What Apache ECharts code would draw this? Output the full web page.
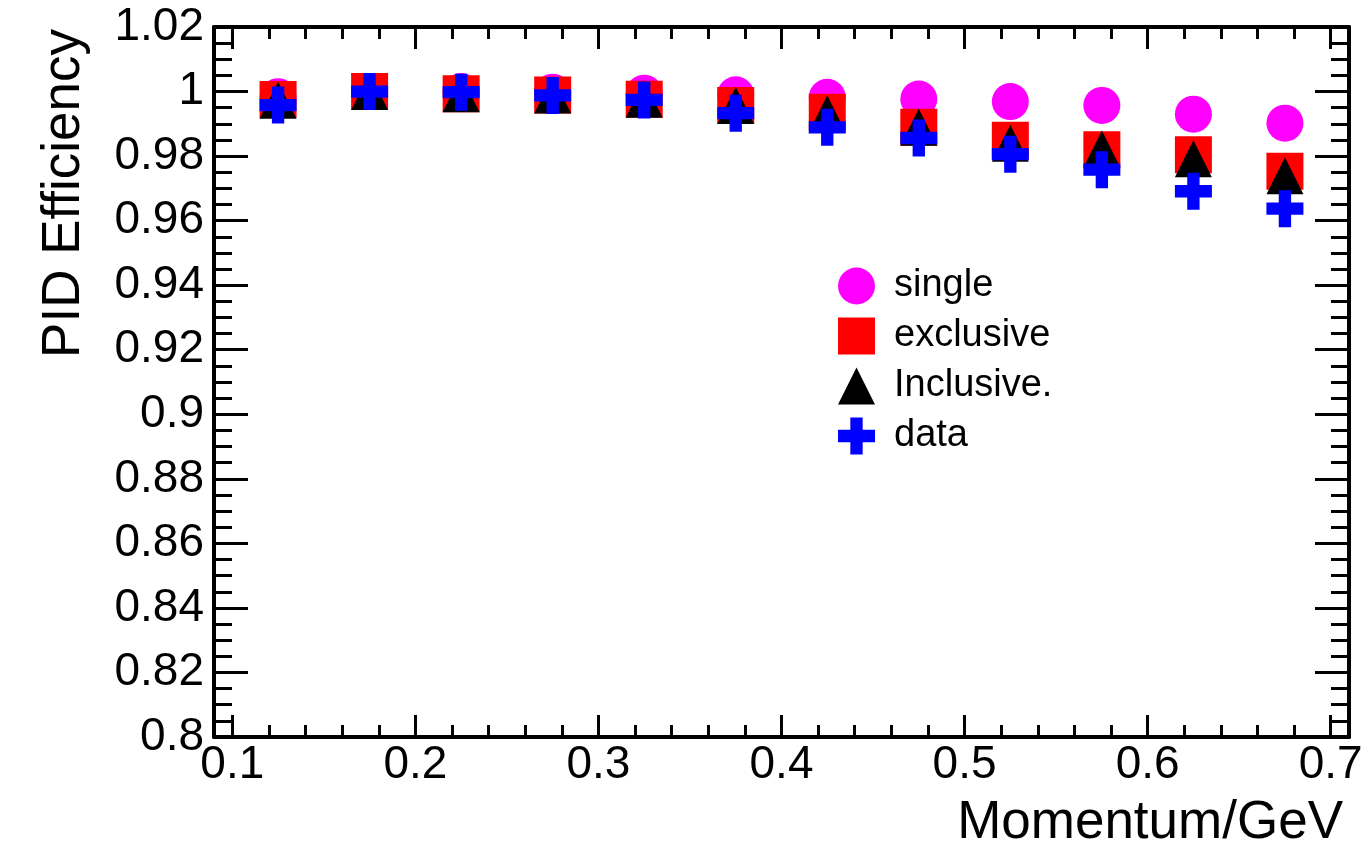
<!DOCTYPE html>
<html>
<head>
<meta charset="utf-8">
<script src="https://cdn.jsdelivr.net/npm/echarts@6/dist/echarts.min.js"></script>
<style>
  html, body { margin: 0; padding: 0; background: #fff; }
  #chart { width: 1368px; height: 853px; }
</style>
</head>
<body>
<div id="chart"></div>
<script>
// momentum bin centres (GeV)
const momentum = [0.125, 0.175, 0.225, 0.275, 0.325, 0.375, 0.425, 0.475, 0.525, 0.575, 0.625, 0.675];
const single    = [0.9984, 1.0000, 1.0000, 0.9998, 0.9995, 0.9990, 0.9982, 0.9977, 0.9969, 0.9957, 0.9930, 0.9902];
const exclusive = [0.9975, 1.0000, 0.9993, 0.9989, 0.9976, 0.9957, 0.9936, 0.9889, 0.9849, 0.9820, 0.9804, 0.9753];
const inclusive = [0.9973, 1.0000, 0.9993, 0.9989, 0.9976, 0.9957, 0.9931, 0.9889, 0.9840, 0.9822, 0.9792, 0.9739];
const dataEff   = [0.9958, 1.0000, 0.9998, 0.9988, 0.9974, 0.9933, 0.9889, 0.9856, 0.9806, 0.9758, 0.9691, 0.9637];

const xMajor = [0.1, 0.2, 0.3, 0.4, 0.5, 0.6, 0.7];
const xMinor = [0.12, 0.14, 0.16, 0.18, 0.22, 0.24, 0.26, 0.28, 0.32, 0.34, 0.36, 0.38,
                0.42, 0.44, 0.46, 0.48, 0.52, 0.54, 0.56, 0.58, 0.62, 0.64, 0.66, 0.68];

const FONT = "'Liberation Sans', Arial, Helvetica, sans-serif";
const crossPath = 'path://M1,0H2V1H3V2H2V3H1V2H0V1H1Z';

let chart = echarts.init(document.getElementById('chart'), null, { renderer: 'canvas' });

function pts(vals) {
    return momentum.map((m, i) => [m, vals[i]]);
}

function xAxisDef(pos, ticks, len, main) {
    return {
        type: 'value',
        position: pos,
        min: 0.09,
        max: 0.71,
        splitLine: { show: false },
        axisLine: { show: main, onZero: false, lineStyle: { color: '#000', width: 4 } },
        axisTick: { show: true, inside: true, customValues: ticks, length: len,
                    lineStyle: { color: '#000', width: 3 } },
        axisLabel: { show: main && pos === 'bottom', customValues: xMajor, margin: 5,
                     fontFamily: FONT, fontSize: 46, color: '#000',
                     formatter: v => String(+v.toFixed(2)) }
    };
}

function yAxisDef(pos) {
    return {
        type: 'value',
        position: pos,
        min: 0.8,
        max: 1.02,
        interval: 0.02,
        splitLine: { show: false },
        axisLine: { show: true, onZero: false, lineStyle: { color: '#000', width: 4 } },
        axisTick: { show: true, inside: true, length: 34, lineStyle: { color: '#000', width: 3 } },
        minorTick: { show: true, splitNumber: 4, length: 18, lineStyle: { color: '#000', width: 3 } },
        axisLabel: { show: pos === 'left', margin: 10, fontFamily: FONT, fontSize: 46, color: '#000',
                     formatter: v => String(+v.toFixed(2)) }
    };
}

function series(name, vals, symbol, color) {
    return {
        name: name,
        type: 'scatter',
        xAxisIndex: 0,
        yAxisIndex: 0,
        symbol: symbol,
        symbolSize: 37,
        itemStyle: { color: color, opacity: 1 },
        data: pts(vals)
    };
}

chart.setOption({
    animation: false,
    grid: { left: 214, right: 19, top: 27, bottom: 116, containLabel: false },
    xAxis: [
        xAxisDef('bottom', xMajor, 22, true),
        xAxisDef('top', xMajor, 22, true),
        xAxisDef('bottom', xMinor, 12, false),
        xAxisDef('top', xMinor, 12, false)
    ],
    yAxis: [yAxisDef('left'), yAxisDef('right')],
    legend: {
        orient: 'vertical',
        left: 838,
        top: 267,
        padding: 0,
        itemWidth: 37,
        itemHeight: 37,
        itemGap: 12,
        textStyle: { fontFamily: FONT, fontSize: 38, color: '#000', padding: [0, 0, 0, 14] },
        data: ['single', 'exclusive', 'Inclusive.', 'data']
    },
    graphic: [
        {
            type: 'text',
            left: 38,
            top: 29,
            rotation: Math.PI / 2,
            style: { text: 'PID Efficiency', font: '53px ' + FONT, fill: '#000' }
        },
        {
            type: 'text',
            right: 25,
            top: 797,
            style: { text: 'Momentum/GeV', font: '53px ' + FONT, fill: '#000' }
        }
    ],
    series: [
        series('single', single, 'circle', '#ff00ff'),
        series('exclusive', exclusive, 'rect', '#ff0000'),
        series('Inclusive.', inclusive, 'triangle', '#000000'),
        series('data', dataEff, crossPath, '#0000ff')
    ]
});
</script>
</body>
</html>
